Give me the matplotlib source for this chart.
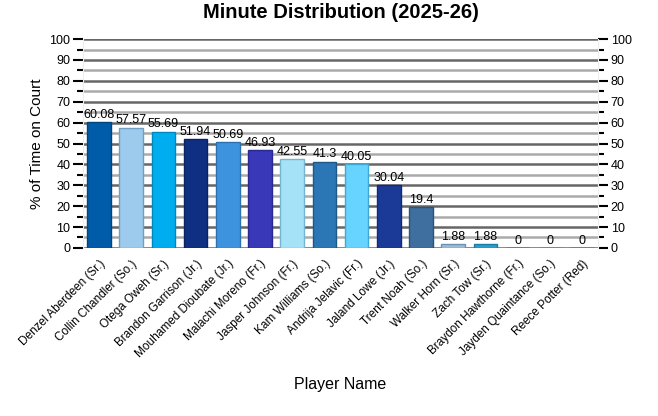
import matplotlib.pyplot as plt
import numpy as np

plt.rcParams['font.family'] = ['Liberation Sans', 'DejaVu Sans']

# Players and minute share
players = ['Denzel Aberdeen (Sr.)', 'Collin Chandler (So.)', 'Otega Oweh (Sr.)',
           'Brandon Garrison (Jr.)', 'Mouhamed Dioubate (Jr.)', 'Malachi Moreno (Fr.)',
           'Jasper Johnson (Fr.)', 'Kam Williams (So.)', 'Andrija Jelavic (Fr.)',
           'Jaland Lowe (Jr.)', 'Trent Noah (So.)', 'Walker Horn (Sr.)',
           'Zach Tow (Sr.)', 'Braydon Hawthorne (Fr.)', 'Jayden Quaintance (So.)',
           'Reece Potter (Red)']
pct = [60.08, 57.57, 55.69, 51.94, 50.69, 46.93, 42.55, 41.3, 40.05,
       30.04, 19.4, 1.88, 1.88, 0, 0, 0]
labels = ['60.08', '57.57', '55.69', '51.94', '50.69', '46.93', '42.55', '41.3',
          '40.05', '30.04', '19.4', '1.88', '1.88', '0', '0', '0']
colors = ['#005ba8', '#9ccbee', '#00aeef', '#0f2f82', '#3e93de', '#3838b8',
          '#a5e2f8', '#2b76b4', '#66d4ff', '#1b3a98', '#3f6f9f', '#9dbcd9',
          '#2a9fd1', '#1f4f9f', '#5aa0e0', '#3060c0']
edges = ['#00457e', '#6f9fc4', '#0087bd', '#0a2260', '#2c70b0', '#282890',
         '#76b5cf', '#1d5888', '#3fa8d6', '#122a72', '#2c5278', '#6f91b0',
         '#1c7aa3', '#153b78', '#3f7bb5', '#204a96']

def plot():
    fig = plt.figure(figsize=(6.58, 4.16), dpi=100)
    ax = fig.add_axes([0.126, 0.404, 0.783, 0.502])
    x = np.arange(len(players))

    # grid lines: dark at 10s, light at 5s
    for v in range(5, 101, 5):
        c = '#666666' if v % 10 == 0 else '#aaaaaa'
        ax.axhline(v, color=c, lw=1.8, zorder=1)
    ax.axhline(0, color='#666666', lw=1.8, zorder=1)

    ax.bar(x, pct, width=0.73, color=colors, edgecolor=edges, linewidth=1, zorder=2)
    for xi, v, s in zip(x, pct, labels):
        ax.text(xi, v + 0.6, s, ha='center', va='bottom', fontsize=9, zorder=3)

    ax.set_xlim(-0.5, len(players) - 0.5)
    ax.set_ylim(0, 100)
    ax.set_yticks(np.arange(0, 101, 10))
    ax.set_yticks(np.arange(5, 100, 10), minor=True)
    ax.tick_params(axis='y', which='major', length=7, width=1.5, labelsize=9, left=True, right=True,
                   labelright=True, pad=2)
    ax.tick_params(axis='y', which='minor', length=4.5, width=1.5, left=True, right=True)
    ax.set_xticks(x)
    ax.set_xticklabels(players, rotation=45, ha='right', rotation_mode='anchor', fontsize=8.5)
    ax.tick_params(axis='x', length=0, pad=7)

    for s in ['top', 'bottom']:
        ax.spines[s].set_visible(False)
    for s in ['left', 'right']:
        ax.spines[s].set_color('#eeeeee')
        ax.spines[s].set_linewidth(0.8)

    ax.set_ylabel('% of Time on Court', fontsize=11, labelpad=4)
    ax.set_xlabel('Player Name', fontsize=11.5, labelpad=12)
    ax.set_title('Minute Distribution (2025-26)', fontsize=14.5, fontweight='bold', pad=15)
    fig.savefig('out.png', dpi=100)

if __name__ == "__main__":
    plot()
